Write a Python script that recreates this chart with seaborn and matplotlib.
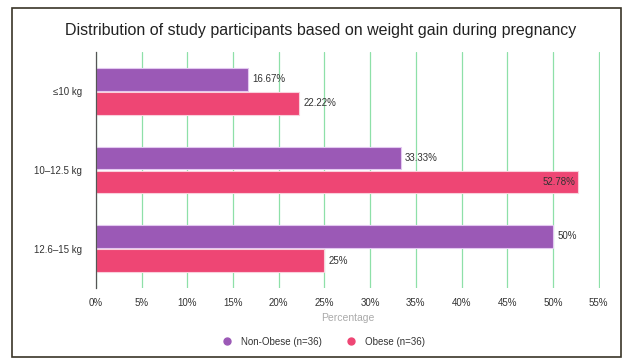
import matplotlib.pyplot as plt
import matplotlib.patches as mpatches
from matplotlib.lines import Line2D
import pandas as pd
import seaborn as sns

categories = ['≤10 kg', '10–12.5 kg', '12.6–15 kg']
groups = ['Non-Obese (n=36)', 'Obese (n=36)']
non_obese = [16.67, 33.33, 50]
obese = [22.22, 52.78, 25]
labels_non_obese = ['16.67%', '33.33%', '50%']
labels_obese = ['22.22%', '52.78%', '25%']
xticks = list(range(0, 56, 5))

colors = ['#9B59B6', '#EE4674']
edges = ['#E3C8F0', '#FAD0DC']

sns.set_style("white")
plt.rcParams['font.family'] = ['Liberation Sans', 'DejaVu Sans']

df = pd.DataFrame({
    'category': categories * 2,
    'group': [groups[0]] * 3 + [groups[1]] * 3,
    'value': non_obese + obese,
})

fig = plt.figure(figsize=(6.26, 3.58), dpi=100)
ax = fig.add_axes([0.153, 0.196, 0.805, 0.659])

sns.barplot(data=df, y='category', x='value', hue='group', orient='h',
            palette=colors, saturation=1, width=0.6125, gap=0.06, ax=ax,
            legend=False, linewidth=0.8)

for cont, edge, labs in zip(ax.containers, edges, [labels_non_obese, labels_obese]):
    for bar, lab in zip(cont, labs):
        bar.set_edgecolor(edge)
        x = bar.get_width()
        y = bar.get_y() + bar.get_height() / 2
        if x > 52:
            ax.text(x - 0.3, y, lab, ha='right', va='center', fontsize=7, color='#333333')
        else:
            ax.text(x + 0.5, y, lab, ha='left', va='center', fontsize=7, color='#333333')

ax.set_xlim(0, 55.1)
ax.set_xticks(xticks)
ax.set_xticklabels([f'{t}%' for t in xticks], fontsize=7, color='#333333')
ax.tick_params(axis='x', length=2, width=0.9, color='#8EE0A8', pad=5)
ax.tick_params(axis='y', length=0, labelsize=7, labelcolor='#333333', pad=10)
ax.grid(axis='x', color='#8EE0A8', linewidth=0.9)
ax.set_axisbelow(True)
for s in ['top', 'right', 'bottom']:
    ax.spines[s].set_visible(False)
ax.spines['left'].set_color('#555555')
ax.spines['left'].set_linewidth(0.9)
ax.xaxis.get_major_ticks()[0].tick1line.set_color('#555555')
ax.set_ylabel('')
ax.set_xlabel('Percentage', fontsize=7.5, color='#AAAAAA', labelpad=4)

fig.suptitle('Distribution of study participants based on weight gain during pregnancy',
             fontsize=11.5, color='#222222', x=0.512, y=0.937)

handles = [Line2D([], [], marker='o', linestyle='', markersize=5, color=c) for c in colors]
fig.legend(handles, groups, loc='center', bbox_to_anchor=(0.513, 0.045), ncol=2,
           frameon=False, fontsize=7, handletextpad=0.4, columnspacing=2.0,
           labelcolor='#333333')

fig.patches.append(mpatches.Rectangle((12 / 626, 0.003), 609 / 626, 1 - 8 / 358 - 0.003,
                                      transform=fig.transFigure, fill=False,
                                      edgecolor='#3A3528', linewidth=1.2))

fig.savefig('out.png', dpi=100)
